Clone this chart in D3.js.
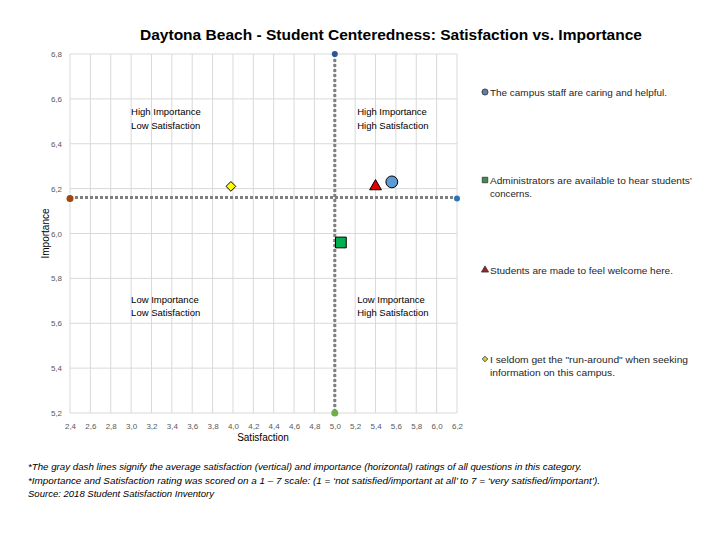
<!DOCTYPE html>
<html><head><meta charset="utf-8">
<script src="https://cdn.jsdelivr.net/npm/d3@7"></script>
<style>body{margin:0;background:#fff;} text{font-family:"Liberation Sans","DejaVu Sans",sans-serif;}</style>
</head><body>
<svg id="chart" width="720" height="540"></svg>
<script>
const title = "Daytona Beach - Student Centeredness: Satisfaction vs. Importance";
const seriesNames = [
  ["The campus staff are caring and helpful."],
  ["Administrators are available to hear students’", "concerns."],
  ["Students are made to feel welcome here."],
  ["I seldom get the \"run-around\" when seeking", "information on this campus."]
];
const satisfaction = [5.56, 5.06, 5.40, 3.98];
const importance = [6.23, 5.96, 6.21, 6.21];
const shapes = ["circle", "square", "triangle", "diamond"];
const colors = ["#5b9bd5", "#00b050", "#e00000", "#ffff00"];
const legendColors = ["#5b7fa6", "#3e8e50", "#a0202a", "#c8d040"];
const avgSatisfaction = 5.0;
const avgImportance = 6.16;
const xTicks = [2.4,2.6,2.8,3.0,3.2,3.4,3.6,3.8,4.0,4.2,4.4,4.6,4.8,5.0,5.2,5.4,5.6,5.8,6.0,6.2];
const yTicks = [5.2,5.4,5.6,5.8,6.0,6.2,6.4,6.6,6.8];
const quadrantLabels = [
  {x: 3.0, y: 6.528, lines: ["High Importance", "Low Satisfaction"]},
  {x: 5.22, y: 6.528, lines: ["High Importance", "High Satisfaction"]},
  {x: 3.0, y: 5.691, lines: ["Low Importance", "Low Satisfaction"]},
  {x: 5.22, y: 5.691, lines: ["Low Importance", "High Satisfaction"]}
];
const footnotes = [
  "*The gray dash lines signify the average satisfaction (vertical) and importance (horizontal) ratings of  all questions in this category.",
  "*Importance and Satisfaction rating was scored on a 1 – 7 scale: (1 = ‘not satisfied/important at all’  to 7 = ‘very satisfied/important’).",
  "Source: 2018 Student Satisfaction Inventory"
];

const svg = d3.select("#chart");
const x = d3.scaleLinear().domain([2.4, 6.2]).range([70, 457]);
const y = d3.scaleLinear().domain([5.2, 6.8]).range([413, 54]);
const fmt = d => d3.format(".1f")(d).replace(".", ",");

svg.append("text").attr("x", 391).attr("y", 40).attr("text-anchor", "middle")
  .attr("font-size", 15).attr("font-weight", "bold").attr("fill", "#000")
  .attr("textLength", 502).attr("lengthAdjust", "spacingAndGlyphs").text(title);

// grid
svg.append("g").selectAll("line").data(xTicks).join("line")
  .attr("x1", d => x(d)).attr("x2", d => x(d)).attr("y1", y(6.8)).attr("y2", y(5.2))
  .attr("stroke", "#d9d9d9").attr("stroke-width", 1);
svg.append("g").selectAll("line").data(yTicks).join("line")
  .attr("x1", x(2.4)).attr("x2", x(6.2)).attr("y1", d => y(d)).attr("y2", d => y(d))
  .attr("stroke", "#d9d9d9").attr("stroke-width", 1);

// axes
const xAxis = svg.append("g").attr("transform", `translate(0,${y(5.2)})`)
  .call(d3.axisBottom(x).tickValues(xTicks).tickFormat(fmt).tickSize(0).tickPadding(10));
xAxis.select(".domain").remove();
xAxis.selectAll("text").attr("font-size", 8).attr("fill", "#595959").style("font-family", "Liberation Sans");
const yAxis = svg.append("g").attr("transform", `translate(${x(2.4)},0)`)
  .call(d3.axisLeft(y).tickValues(yTicks).tickFormat(fmt).tickSize(0).tickPadding(8));
yAxis.select(".domain").remove();
yAxis.selectAll("text").attr("font-size", 8).attr("fill", "#595959").style("font-family", "Liberation Sans");

svg.append("text").attr("x", 263).attr("y", 441).attr("text-anchor", "middle")
  .attr("font-size", 10).attr("fill", "#000").text("Satisfaction");
svg.append("text").attr("transform", `translate(49,${(y(6.8)+y(5.2))/2}) rotate(-90)`)
  .attr("text-anchor", "middle").attr("font-size", 10).attr("fill", "#000").text("Importance");

// average lines
svg.append("line").attr("x1", x(avgSatisfaction)).attr("x2", x(avgSatisfaction))
  .attr("y1", y(6.8)).attr("y2", y(5.2)).attr("stroke", "#7f7f7f").attr("stroke-width", 3)
  .attr("stroke-dasharray", "3,2");
svg.append("line").attr("x1", x(2.4)).attr("x2", x(6.2))
  .attr("y1", y(avgImportance)).attr("y2", y(avgImportance)).attr("stroke", "#7f7f7f").attr("stroke-width", 3)
  .attr("stroke-dasharray", "3,2");
const endDots = [
  {sx: avgSatisfaction, iy: 6.8, c: "#2f5597", r: 3},
  {sx: avgSatisfaction, iy: 5.2, c: "#70ad47", r: 3.5},
  {sx: 2.4, iy: avgImportance, c: "#9e480e", r: 3.5},
  {sx: 6.2, iy: avgImportance, c: "#2e75b6", r: 3}
];
svg.append("g").selectAll("circle").data(endDots).join("circle")
  .attr("cx", d => x(d.sx)).attr("cy", d => y(d.iy) + (d.iy === avgImportance ? 1 : 0)).attr("r", d => d.r).attr("fill", d => d.c);

// quadrant labels
quadrantLabels.forEach(q => {
  const t = svg.append("text").attr("x", x(q.x)).attr("y", y(q.y)).attr("font-size", 9.5).attr("fill", "#000");
  q.lines.forEach((l, i) => t.append("tspan").attr("x", x(q.x)).attr("dy", i ? 13.5 : 0).text(l));
});

function shapePath(s, size) {
  const sym = {circle: d3.symbolCircle, square: d3.symbolSquare, triangle: d3.symbolTriangle, diamond: d3.symbolDiamond2}[s];
  return d3.symbol().type(sym).size(size)();
}
const sizes = {circle: 110, square: 115, triangle: 60, diamond: 60};

const pts = satisfaction.map((s, i) => ({s, im: importance[i], shape: shapes[i], c: colors[i]}));
svg.append("g").selectAll("path").data(pts).join("path")
  .attr("transform", d => `translate(${x(d.s)},${y(d.im)})`)
  .attr("d", d => shapePath(d.shape, sizes[d.shape]))
  .attr("fill", d => d.c).attr("stroke", "#000").attr("stroke-width", 1);

// legend
const legendY = [92, 180, 270, 359];
const legendW = [[177], [202, 42], [183], [198, 125]];
seriesNames.forEach((lines, i) => {
  const g = svg.append("g");
  g.append("path").attr("transform", `translate(485,${legendY[i]})`)
    .attr("d", shapePath(shapes[i], shapes[i] === "triangle" ? 22 : (shapes[i] === "diamond" ? 20 : 30)))
    .attr("fill", legendColors[i]).attr("stroke", "#333").attr("stroke-width", 0.8);
  lines.forEach((l, j) => {
    g.append("text").attr("x", 490).attr("y", legendY[i] + 3.5 + j * 13)
      .attr("font-size", 9.5).attr("fill", "#262626")
      .attr("textLength", legendW[i][j]).attr("lengthAdjust", "spacingAndGlyphs").text(l);
  });
});

// footnotes
const fnW = [554, 572, 186];
footnotes.forEach((f, i) => {
  svg.append("text").attr("x", 28).attr("y", 470 + i * 13.5).attr("font-size", 9)
    .attr("font-style", "italic").attr("fill", "#000")
    .attr("textLength", fnW[i]).attr("lengthAdjust", "spacingAndGlyphs").text(f);
});
</script>
</body></html>
